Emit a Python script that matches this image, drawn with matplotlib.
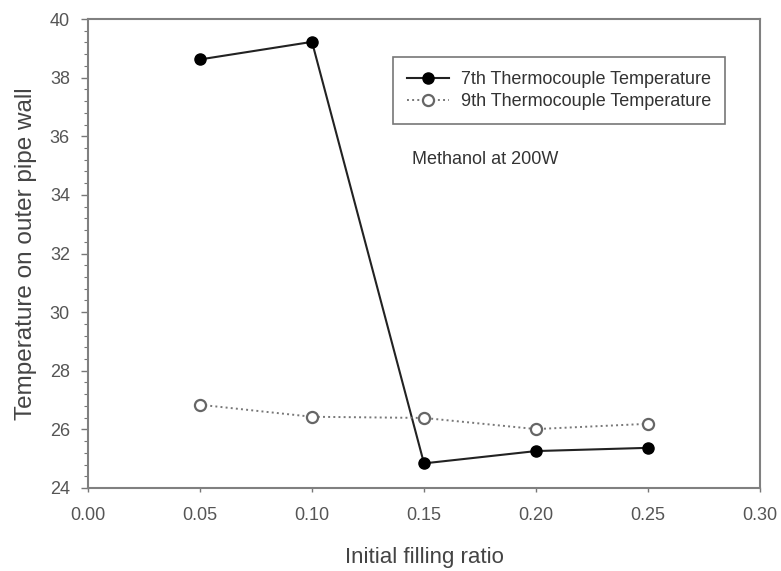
import matplotlib
matplotlib.use("Agg")
import matplotlib.pyplot as plt
from matplotlib.ticker import MultipleLocator, FormatStrFormatter

plt.rcParams['font.family'] = ['Liberation Sans', 'DejaVu Sans']

filling_ratio = [0.05, 0.10, 0.15, 0.20, 0.25]
temp_7th = [38.62, 39.22, 24.84, 25.26, 25.37]
temp_9th = [26.84, 26.43, 26.39, 26.01, 26.19]

fig = plt.figure(figsize=(7.81, 5.71), dpi=100)
ax = fig.add_axes([88/781, 1-488/571, (760-88)/781, (488-19)/571])

ax.plot(filling_ratio, temp_7th, '-', color='#222222', lw=1.5, marker='o',
        markersize=8, markerfacecolor='black', markeredgecolor='black',
        label='7th Thermocouple Temperature', zorder=3)
ax.plot(filling_ratio, temp_9th, ':', color='#777777', lw=1.4, marker='o',
        markersize=8, markerfacecolor='white', markeredgecolor='#666666',
        markeredgewidth=1.6, label='9th Thermocouple Temperature', zorder=3)

ax.set_xlim(0.0, 0.30)
ax.set_ylim(24, 40)
ax.xaxis.set_major_locator(MultipleLocator(0.05))
ax.xaxis.set_major_formatter(FormatStrFormatter('%.2f'))
ax.yaxis.set_major_locator(MultipleLocator(2))
ax.yaxis.set_minor_locator(MultipleLocator(0.4))

for s in ax.spines.values():
    s.set_color('#808080')
    s.set_linewidth(1.5)

ax.tick_params(axis='x', which='major', direction='out', length=3, width=1,
               color='#777777', labelsize=13, labelcolor='#555555', pad=11)
ax.tick_params(axis='y', which='major', direction='out', length=5, width=1,
               color='#777777', labelsize=13, labelcolor='#555555', pad=8)
ax.tick_params(axis='y', which='minor', direction='out', length=3, width=0.8,
               color='#777777')

ax.set_xlabel('Initial filling ratio', fontsize=16, color='#444444', labelpad=16)
ax.set_ylabel('Temperature on outer pipe wall', fontsize=17.5, color='#444444', labelpad=9)

leg = ax.legend(loc='upper left', bbox_to_anchor=((393-88)/672, 1-(57-19)/469),
                fontsize=13, frameon=True, fancybox=False, handlelength=2.3,
                borderpad=0.8, labelspacing=0.25, handletextpad=0.65,
                borderaxespad=0)
leg.get_frame().set_edgecolor('#555555')
leg.get_frame().set_linewidth(1.2)
for t in leg.get_texts():
    t.set_color('#333333')

ax.text(0.1446, 35.19, 'Methanol at 200W', fontsize=13, color='#333333',
        va='center', ha='left')

fig.savefig('out.png', dpi=100)
